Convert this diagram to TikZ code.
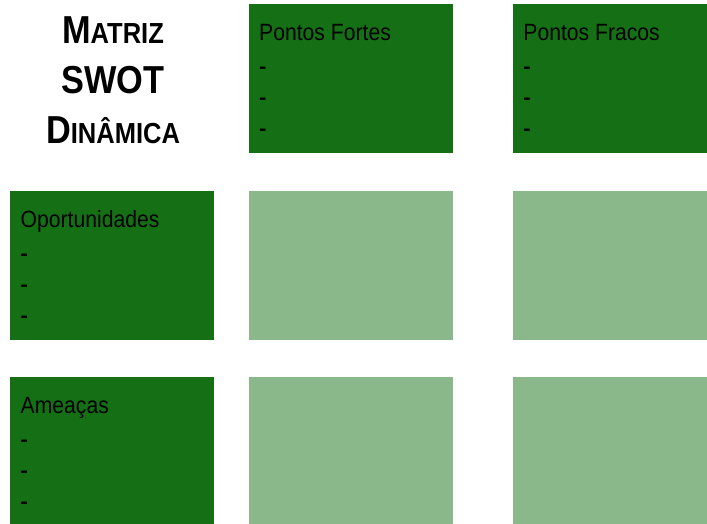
\documentclass[tikz,border=0pt]{standalone}
\usepackage{fontspec}
\setmainfont{Liberation Sans}
\newfontfamily\lbl[FakeStretch=0.9]{Liberation Sans}
\newfontfamily\dsh[FakeStretch=0.9,FakeBold=1.5]{Liberation Sans}
\newfontfamily\ttl[FakeStretch=0.88]{Liberation Sans Bold}
\definecolor{darkg}{HTML}{157015}
\definecolor{lightg}{HTML}{8AB88A}
\tikzset{
  cell/.style={anchor=north west, minimum width=204pt, minimum height=149pt, inner sep=0pt, outer sep=0pt, draw=none},
  darkcell/.style={cell, fill=darkg},
  lightcell/.style={cell, fill=lightg},
  lbltext/.style={anchor=base west, inner sep=0pt, font=\lbl\fontsize{23.5}{23.5}\selectfont, text=black},
  dshtext/.style={anchor=base west, inner sep=0pt, font=\dsh\fontsize{23.5}{23.5}\selectfont, text=black},
  ttltext/.style={anchor=base, inner sep=0pt, text=black}
}
\newcommand{\bigL}[1]{{\fontsize{39}{39}\selectfont #1}}
\newcommand{\smL}[1]{{\fontsize{29}{29}\selectfont #1}}
\begin{document}
\begin{tikzpicture}[x=1pt,y=-1pt]
\useasboundingbox (0,0) rectangle (707,524);
\fill[white] (0,0) rectangle (707,524);
\begin{scope}
\clip (0,0) rectangle (707,524);
% header row
\node[darkcell] (pf) at (248.5,4) {};
\node[darkcell] (pw) at (512.7,4) {};
% row 2
\node[darkcell] (op) at (10,191) {};
\node[lightcell] (c22) at (248.5,191) {};
\node[lightcell] (c23) at (512.7,191) {};
% row 3
\node[darkcell] (am) at (10,377) {};
\node[lightcell] (c32) at (248.5,377) {};
\node[lightcell] (c33) at (512.7,377) {};
\end{scope}
% title
\node[ttltext] (t1) at (113,43.5) {\ttl\bigL{M}\smL{ATRIZ}};
\node[ttltext] (t2) at (113,94) {\ttl\bigL{SWOT}};
\node[ttltext] (t3) at (113,143.5) {\ttl\bigL{D}\smL{INÂMICA}};
% labels
\foreach \b/\t in {pf/Pontos Fortes, pw/Pontos Fracos, op/Oportunidades, am/Ameaças}{
  \node[lbltext] (\b-h) at ([shift={(10.5,36.7)}]\b.north west) {\t};
  \foreach \i in {1,2,3}{
    \node[dshtext] (\b-d\i) at ([shift={(10.5,39+31*\i)}]\b.north west) {-};
  }
}
\end{tikzpicture}
\end{document}
